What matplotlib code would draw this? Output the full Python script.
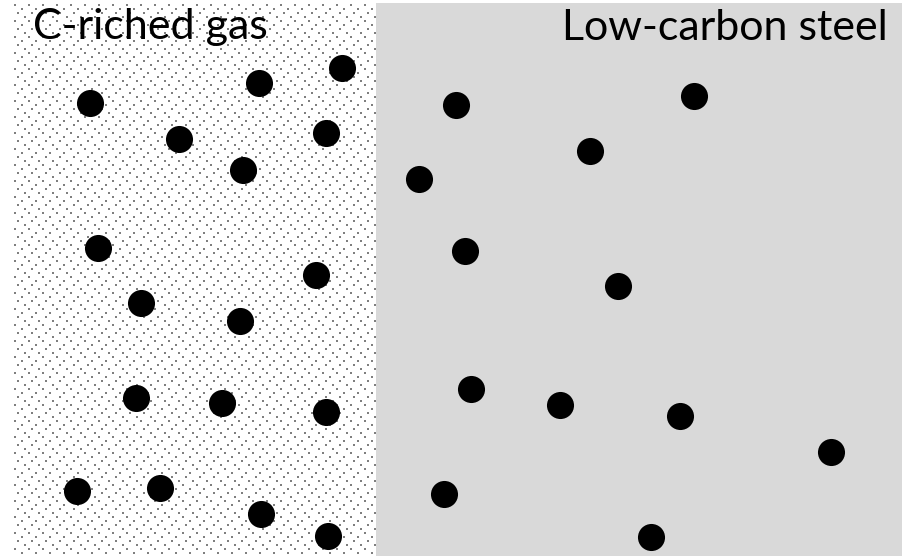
import numpy as np
import matplotlib
matplotlib.use("Agg")
import matplotlib.pyplot as plt
from matplotlib.patches import Rectangle

# particle centres (pixel coords, y down)
gas_x = [342, 259, 90, 179, 326, 243, 98, 316, 141, 240, 136, 222, 326, 77, 160, 261, 328]
gas_y = [68, 83, 103, 139, 133, 170, 248, 275, 303, 321, 398, 403, 412, 491, 488, 514, 536]
steel_x = [694, 456, 590, 419, 465, 618, 471, 560, 680, 831, 444, 651]
steel_y = [96, 105, 151, 179, 251, 286, 389, 405, 416, 452, 494, 537]

labels = ["C-riched gas", "Low-carbon steel"]

W, H = 902, 556
fig = plt.figure(figsize=(W / 100, H / 100), dpi=100)
ax = fig.add_axes([0, 0, 1, 1])
ax.set_xlim(0, W)
ax.set_ylim(H, 0)
ax.axis("off")

# stippled gas region
gx0, gx1, gy0 = 13, 376, 3
pw, ph = gx1 - gx0, H - gy0
img = np.ones((ph, pw, 3))
offsets = [0, 7, 3, 10]
for r, yy in enumerate(range(1, ph - 1, 4)):
    for xx in range(offsets[r % 4] + 1, pw - 1, 14):
        img[yy:yy + 2, xx:xx + 2] = 0.5
ax.imshow(img, extent=(gx0, gx1, H, gy0), interpolation="nearest", zorder=1)

# steel region
ax.add_patch(Rectangle((gx1, gy0), W - gx1, H - gy0, facecolor="#d9d9d9",
                       edgecolor="none", zorder=1))

ax.scatter(gas_x, gas_y, s=380, color="black", linewidths=0, zorder=3)
ax.scatter(steel_x, steel_y, s=380, color="black", linewidths=0, zorder=3)

ax.text(33, 39, labels[0], fontsize=31, family="Lato", va="baseline", zorder=4)
ax.text(888, 40, labels[1], fontsize=31, family="Lato", va="baseline", ha="right", zorder=4)

fig.savefig("out.png", dpi=100)
